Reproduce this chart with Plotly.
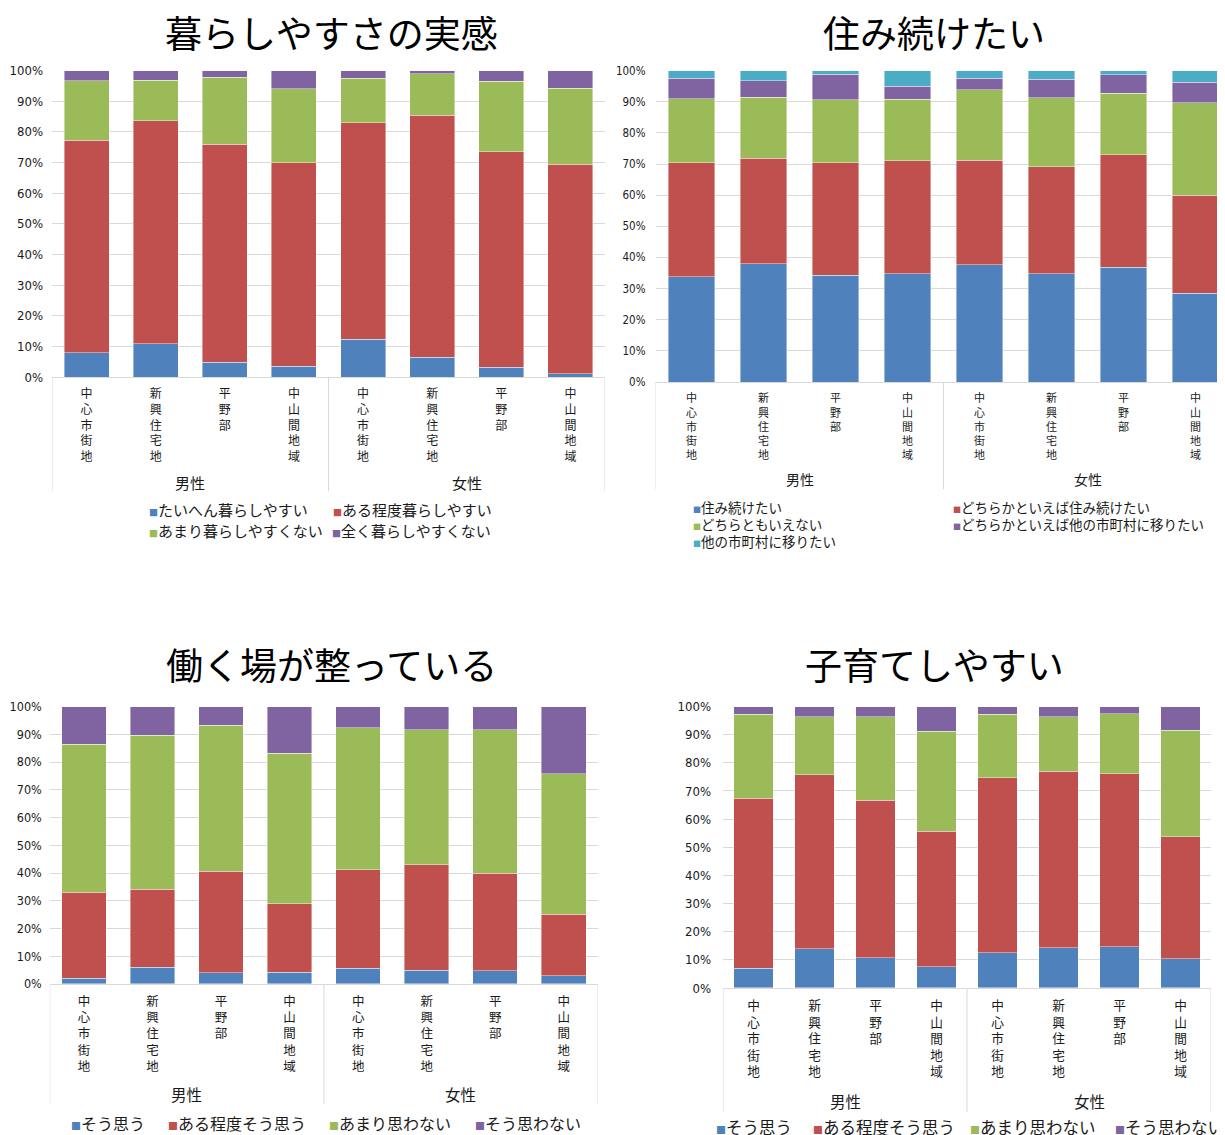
import plotly.graph_objects as go

W, H = 1225, 1135

# ---------------- data ----------------
areas = ["中心市街地", "新興住宅地", "平野部", "中山間地域"]
genders = ["男性", "女性"]
categories = [f"{g}|{a}" for g in genders for a in areas]

colors = ["#4F81BD", "#C0504D", "#9BBB59", "#8064A2", "#4BACC6"]

# Chart 1: 暮らしやすさの実感
c1_title = "暮らしやすさの実感"
c1_names = ["たいへん暮らしやすい", "ある程度暮らしやすい", "あまり暮らしやすくない", "全く暮らしやすくない"]
c1_s1 = [8.0, 10.8, 4.9, 3.6, 12.4, 6.4, 3.2, 1.0]
c1_s2 = [69.3, 72.8, 71.1, 66.4, 70.5, 79.0, 70.3, 68.5]
c1_s3 = [19.4, 13.2, 21.8, 24.0, 14.6, 13.5, 23.0, 24.7]
c1_s4 = [3.3, 3.2, 2.2, 6.0, 2.5, 1.1, 3.5, 5.8]

# Chart 2: 住み続けたい
c2_title = "住み続けたい"
c2_names = ["住み続けたい", "どちらかといえば住み続けたい", "どちらともいえない",
            "どちらかといえば他の市町村に移りたい", "他の市町村に移りたい"]
c2_s1 = [33.8, 38.0, 34.3, 34.7, 37.7, 34.7, 36.9, 28.5]
c2_s2 = [36.6, 33.9, 36.1, 36.4, 33.5, 34.4, 36.1, 31.5]
c2_s3 = [20.5, 19.5, 20.2, 19.7, 22.6, 22.1, 19.8, 29.6]
c2_s4 = [6.6, 5.4, 8.2, 4.2, 3.7, 6.0, 5.8, 6.6]
c2_s5 = [2.5, 3.2, 1.2, 5.0, 2.5, 2.8, 1.4, 3.8]

# Chart 3: 働く場が整っている
c3_title = "働く場が整っている"
c3_names = ["そう思う", "ある程度そう思う", "あまり思わない", "そう思わない"]
c3_s1 = [2.0, 6.0, 4.0, 4.3, 5.7, 4.9, 4.7, 2.9]
c3_s2 = [31.0, 28.2, 36.7, 24.7, 35.4, 38.0, 35.3, 22.3]
c3_s3 = [53.4, 55.4, 52.6, 54.1, 51.2, 48.7, 51.6, 50.6]
c3_s4 = [13.6, 10.4, 6.7, 16.9, 7.7, 8.4, 8.4, 24.2]

# Chart 4: 子育てしやすい
c4_title = "子育てしやすい"
c4_names = ["そう思う", "ある程度そう思う", "あまり思わない", "そう思わない"]
c4_s1 = [7.0, 13.9, 10.7, 7.6, 12.5, 14.3, 14.6, 10.3]
c4_s2 = [60.5, 61.8, 56.0, 48.1, 62.2, 62.8, 61.5, 43.4]
c4_s3 = [29.8, 20.6, 29.6, 35.6, 22.6, 19.2, 21.4, 37.9]
c4_s4 = [2.7, 3.7, 3.7, 8.7, 2.7, 3.7, 2.5, 8.4]

y_ticks = [0, 10, 20, 30, 40, 50, 60, 70, 80, 90, 100]

# ---------------- layout geometry (target picture pixels) ----------------
panels = [
    dict(title=c1_title, names=c1_names, series=[c1_s1, c1_s2, c1_s3, c1_s4],
         x0=52, x1=605, ytop=72, ybot=378, xmax=7.5, div_bot=492, grp_y=483,
         tick_size=12, ytick_size=13, ystand=8, grp_size=15, title_xy=(331, 33),
         leg_size=15, leg=[(148, 510), (332, 510), (148, 531), (331, 531)]),
    dict(title=c2_title, names=c2_names, series=[c2_s1, c2_s2, c2_s3, c2_s4, c2_s5],
         x0=655.5, x1=1225, ytop=72, ybot=383, xmax=7.5 - 6.5 / 72, div_bot=490, grp_y=480,
         tick_size=11, ytick_size=11.5, ystand=9, grp_size=14, title_xy=(934, 33),
         leg_size=13.5, leg=[(692, 508), (952, 508), (692, 525), (952, 525), (692, 542)]),
    dict(title=c3_title, names=c3_names, series=[c3_s1, c3_s2, c3_s3, c3_s4],
         x0=49.75, x1=598, ytop=707, ybot=984, xmax=7.5, div_bot=1104, grp_y=1094,
         tick_size=12.5, ytick_size=12.5, ystand=7, grp_size=15.5, title_xy=(331, 665),
         leg_size=16, leg=[(70, 1123), (167, 1123), (328, 1123), (474, 1123)]),
    dict(title=c4_title, names=c4_names, series=[c4_s1, c4_s2, c4_s3, c4_s4],
         x0=723, x1=1211, ytop=707, ybot=988, xmax=7.5, div_bot=1112, grp_y=1101,
         tick_size=12.7, ytick_size=13, ystand=11, grp_size=15.5, title_xy=(934, 665),
         leg_size=16.5, leg=[(715, 1127), (812, 1127), (969, 1127), (1114, 1127)]),
]

JP = "Noto Sans CJK JP, Noto Sans CJK SC, sans-serif"
NARROW = "Liberation Sans Narrow, DejaVu Sans Condensed, Liberation Sans, sans-serif"
TXT = "#1a1a1a"
GRID = "#D9D9D9"

# page offset compensation (page margin / capture scaling)
OFF_X, OFF_Y, SCALE_Y = 8.0, 17.5, 0.9844


def fx(p):
    return (p - OFF_X) / W


def fy(p):
    return 1 - ((p - OFF_Y) / SCALE_Y) / H


fig = go.Figure()
annotations = []
shapes = []
layout_axes = {}

for i, pnl in enumerate(panels, start=1):
    xa = "x" if i == 1 else f"x{i}"
    ya = "y" if i == 1 else f"y{i}"
    for k, (name, vals) in enumerate(zip(pnl["names"], pnl["series"])):
        fig.add_trace(go.Bar(
            x=categories, y=vals, name=name, xaxis=xa, yaxis=ya,
            marker=dict(color=colors[k], line=dict(color="rgba(255,255,255,0.7)", width=0.6)),
            showlegend=False,
        ))
    xkey = "xaxis" if i == 1 else f"xaxis{i}"
    ykey = "yaxis" if i == 1 else f"yaxis{i}"
    layout_axes[xkey] = dict(
        domain=[fx(pnl["x0"]), min(1.0, fx(pnl["x1"]))], anchor=ya,
        type="category", range=[-0.5, pnl["xmax"]],
        tickmode="array", tickvals=categories,
        ticktext=["<br>".join(a) for g in genders for a in areas],
        tickangle=0, ticks="", showgrid=False,
        showline=True, linecolor=GRID, linewidth=1,
        tickfont=dict(family=JP, size=pnl["tick_size"], color=TXT),
        ticklabelstandoff=6, fixedrange=True,
    )
    layout_axes[ykey] = dict(
        domain=[fy(pnl["ybot"]), fy(pnl["ytop"])], anchor=xa,
        range=[0, 100], tickmode="array", tickvals=y_ticks,
        ticktext=[f"{v}%" for v in y_ticks],
        showgrid=True, gridcolor=GRID, gridwidth=1, zeroline=False,
        showline=False, ticks="",
        tickfont=dict(family=NARROW, size=pnl["ytick_size"], color=TXT),
        ticklabelstandoff=pnl["ystand"], fixedrange=True,
    )
    # group dividers
    for xv in (-0.5, 3.5, 7.5):
        shapes.append(dict(type="line", xref=xa, yref="paper",
                           x0=xv, x1=xv, y0=fy(pnl["ybot"]), y1=fy(pnl["div_bot"]),
                           line=dict(color=GRID, width=1)))
    # group labels
    for gi, g in enumerate(genders):
        annotations.append(dict(text=g, xref=xa, yref="paper", x=1.5 + 4 * gi,
                                y=fy(pnl["grp_y"]), showarrow=False,
                                xanchor="center", yanchor="middle",
                                font=dict(family=JP, size=pnl["grp_size"], color=TXT)))
    # title
    tx, ty = pnl["title_xy"]
    annotations.append(dict(text=pnl["title"], xref="paper", yref="paper",
                            x=fx(tx), y=fy(ty), showarrow=False,
                            xanchor="center", yanchor="middle",
                            font=dict(family=JP, size=37, color="#000000")))
    # legend entries
    for k, (name, (lx, ly)) in enumerate(zip(pnl["names"], pnl["leg"])):
        sq = int(round(pnl["leg_size"] * 0.62))
        annotations.append(dict(
            text=f'<span style="color:{colors[k]};font-size:{sq}px">■</span>{name}',
            xref="paper", yref="paper", x=fx(lx - 1), y=fy(ly), showarrow=False,
            xanchor="left", yanchor="middle",
            font=dict(family=JP, size=pnl["leg_size"], color=TXT)))

fig.update_layout(
    width=W, height=H, margin=dict(l=0, r=0, t=0, b=0),
    barmode="stack", bargap=0.35,
    paper_bgcolor="white", plot_bgcolor="white",
    annotations=annotations, shapes=shapes,
    showlegend=False,
    **layout_axes,
)

fig.write_html("out.html")
